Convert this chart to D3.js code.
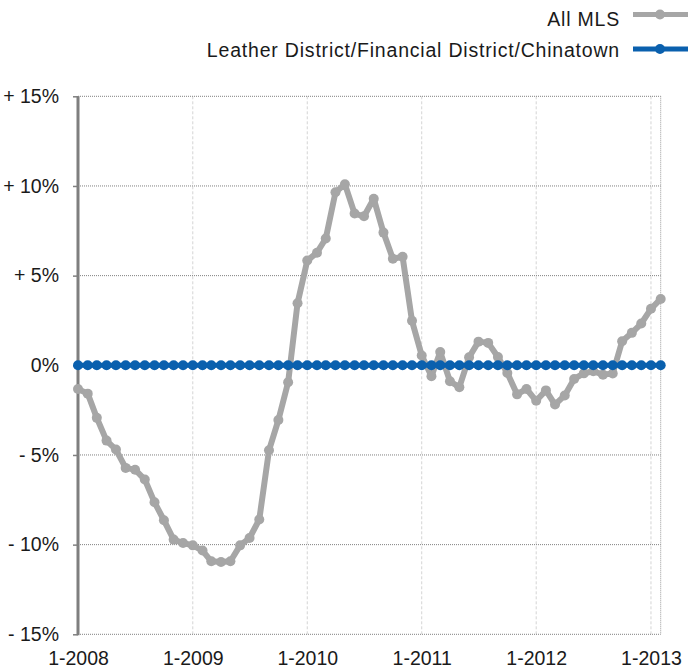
<!DOCTYPE html>
<html>
<head>
<meta charset="utf-8">
<script src="https://cdn.jsdelivr.net/npm/d3@7"></script>
<style>
  html, body { margin: 0; padding: 0; background: #fff; }
  svg { display: block; font-family: "Liberation Sans", Arial, Helvetica, sans-serif; }
</style>
</head>
<body>
<svg id="chart" width="688" height="668"></svg>
<script>
// ---- data (monthly, Jan 2008 – Feb 2013) ----
const startMonth = new Date(2008, 0, 1);
const endMonth = new Date(2013, 1, 1);
const months = d3.timeMonth.range(startMonth, d3.timeMonth.offset(endMonth, 1));

const seriesNames = ["All MLS", "Leather District/Financial District/Chinatown"];

const allMLS = [
  -1.32, -1.58, -2.93, -4.20, -4.70, -5.72, -5.82, -6.37, -7.64, -8.64, -9.72, -9.91,
  -10.04, -10.33, -10.93, -10.97, -10.93, -10.04, -9.63, -8.60, -4.74, -3.05, -0.95, 3.46,
  5.84, 6.28, 7.07, 9.65, 10.10, 8.46, 8.31, 9.29, 7.40, 5.94, 6.05, 2.48,
  0.55, -0.61, 0.74, -0.89, -1.22, 0.45, 1.32, 1.25, 0.46, -0.43, -1.62, -1.32,
  -1.98, -1.40, -2.19, -1.68, -0.76, -0.45, -0.33, -0.52, -0.46, 1.34, 1.81, 2.33,
  3.15, 3.70
];

const leatherDistrict = [
  0, 0, 0, 0, 0, 0, 0, 0, 0, 0, 0, 0,
  0, 0, 0, 0, 0, 0, 0, 0, 0, 0, 0, 0,
  0, 0, 0, 0, 0, 0, 0, 0, 0, 0, 0, 0,
  0, 0, 0, 0, 0, 0, 0, 0, 0, 0, 0, 0,
  0, 0, 0, 0, 0, 0, 0, 0, 0, 0, 0, 0,
  0, 0
];

const yTicks = [-15, -10, -5, 0, 5, 10, 15];
const xTickLabels = ["1-2008", "1-2009", "1-2010", "1-2011", "1-2012", "1-2013"];
const xTickDates = [new Date(2008,0,1), new Date(2009,0,1), new Date(2010,0,1),
                    new Date(2011,0,1), new Date(2012,0,1), new Date(2013,0,1)];

// ---- layout ----
const svg = d3.select("#chart");
const pLeft = 78, pRight = 660.7, pTop = 96.3, pBottom = 634.3;
const grayColor = "#a6a6a6", blueColor = "#0a60ae";
const fontSize = 19.5;

const x = d3.scaleTime().domain([startMonth, endMonth]).range([pLeft, pRight]);
const y = d3.scaleLinear().domain([-15, 15]).range([pBottom, pTop]);

// vertical year gridlines (light dashed)
svg.append("g").selectAll("line").data(xTickDates.slice(1)).join("line")
  .attr("x1", d => x(d)).attr("x2", d => x(d))
  .attr("y1", pTop).attr("y2", pBottom)
  .attr("stroke", "#d4d4d4").attr("stroke-width", 1)
  .attr("stroke-dasharray", "3,2");

// horizontal gridlines (dotted)
svg.append("g").selectAll("line").data(yTicks).join("line")
  .attr("x1", pLeft).attr("x2", pRight)
  .attr("y1", d => y(d)).attr("y2", d => y(d))
  .attr("stroke", "#808080").attr("stroke-width", 1)
  .attr("stroke-dasharray", "1,1");

// right border (dotted)
svg.append("line")
  .attr("x1", pRight).attr("x2", pRight).attr("y1", pTop).attr("y2", pBottom)
  .attr("stroke", "#999").attr("stroke-width", 1).attr("stroke-dasharray", "1,1");

// left axis with D3 axis generator
const yAxis = d3.axisLeft(y).tickValues(yTicks).tickSize(5).tickPadding(14)
  .tickFormat(d => d > 0 ? "+ " + d + "%" : d < 0 ? "- " + Math.abs(d) + "%" : "0%");
const gy = svg.append("g").attr("transform", `translate(${pLeft},0)`).call(yAxis);
gy.select(".domain").attr("stroke", "#7f7f7f").attr("stroke-width", 3)
  .attr("d", `M0,${pTop}V${pBottom + 1}`);
gy.selectAll(".tick line").attr("stroke", "#7f7f7f").attr("stroke-width", 1.5);
gy.selectAll(".tick text").attr("font-size", fontSize).attr("fill", "#1a1a1a")
  .attr("font-family", "Liberation Sans, Arial, sans-serif");

// bottom axis labels
const xAxis = d3.axisBottom(x).tickValues(xTickDates).tickSize(0).tickPadding(0)
  .tickFormat((d, i) => xTickLabels[i]);
const gx = svg.append("g").attr("transform", `translate(0,${pBottom})`).call(xAxis);
gx.select(".domain").remove();
gx.selectAll(".tick text").attr("font-size", fontSize).attr("fill", "#1a1a1a")
  .attr("font-family", "Liberation Sans, Arial, sans-serif")
  .attr("dy", null).attr("y", 31);

// series
const line = d3.line().x((d, i) => x(months[i])).y(d => y(d));

function drawSeries(values, color, width, r) {
  const g = svg.append("g");
  g.append("path").datum(values).attr("d", line)
    .attr("fill", "none").attr("stroke", color).attr("stroke-width", width)
    .attr("stroke-linejoin", "round");
  g.selectAll("circle").data(values).join("circle")
    .attr("cx", (d, i) => x(months[i])).attr("cy", d => y(d))
    .attr("r", r).attr("fill", color);
}
drawSeries(allMLS, grayColor, 6, 5);
drawSeries(leatherDistrict, blueColor, 5, 5);

// legend
const legend = [
  { name: seriesNames[0], color: grayColor, ly: 14.5, ty: 25.5 },
  { name: seriesNames[1], color: blueColor, ly: 49, ty: 56.5 }
];
const lg = svg.append("g");
legend.forEach(l => {
  lg.append("text").attr("x", 620).attr("y", l.ty).attr("text-anchor", "end")
    .attr("font-size", fontSize).attr("letter-spacing", 0.8)
    .attr("fill", "#1a1a1a").text(l.name);
  lg.append("line").attr("x1", 633).attr("x2", 692).attr("y1", l.ly).attr("y2", l.ly)
    .attr("stroke", l.color).attr("stroke-width", 5);
  lg.append("circle").attr("cx", 660).attr("cy", l.ly).attr("r", 5).attr("fill", l.color);
});
</script>
</body>
</html>
